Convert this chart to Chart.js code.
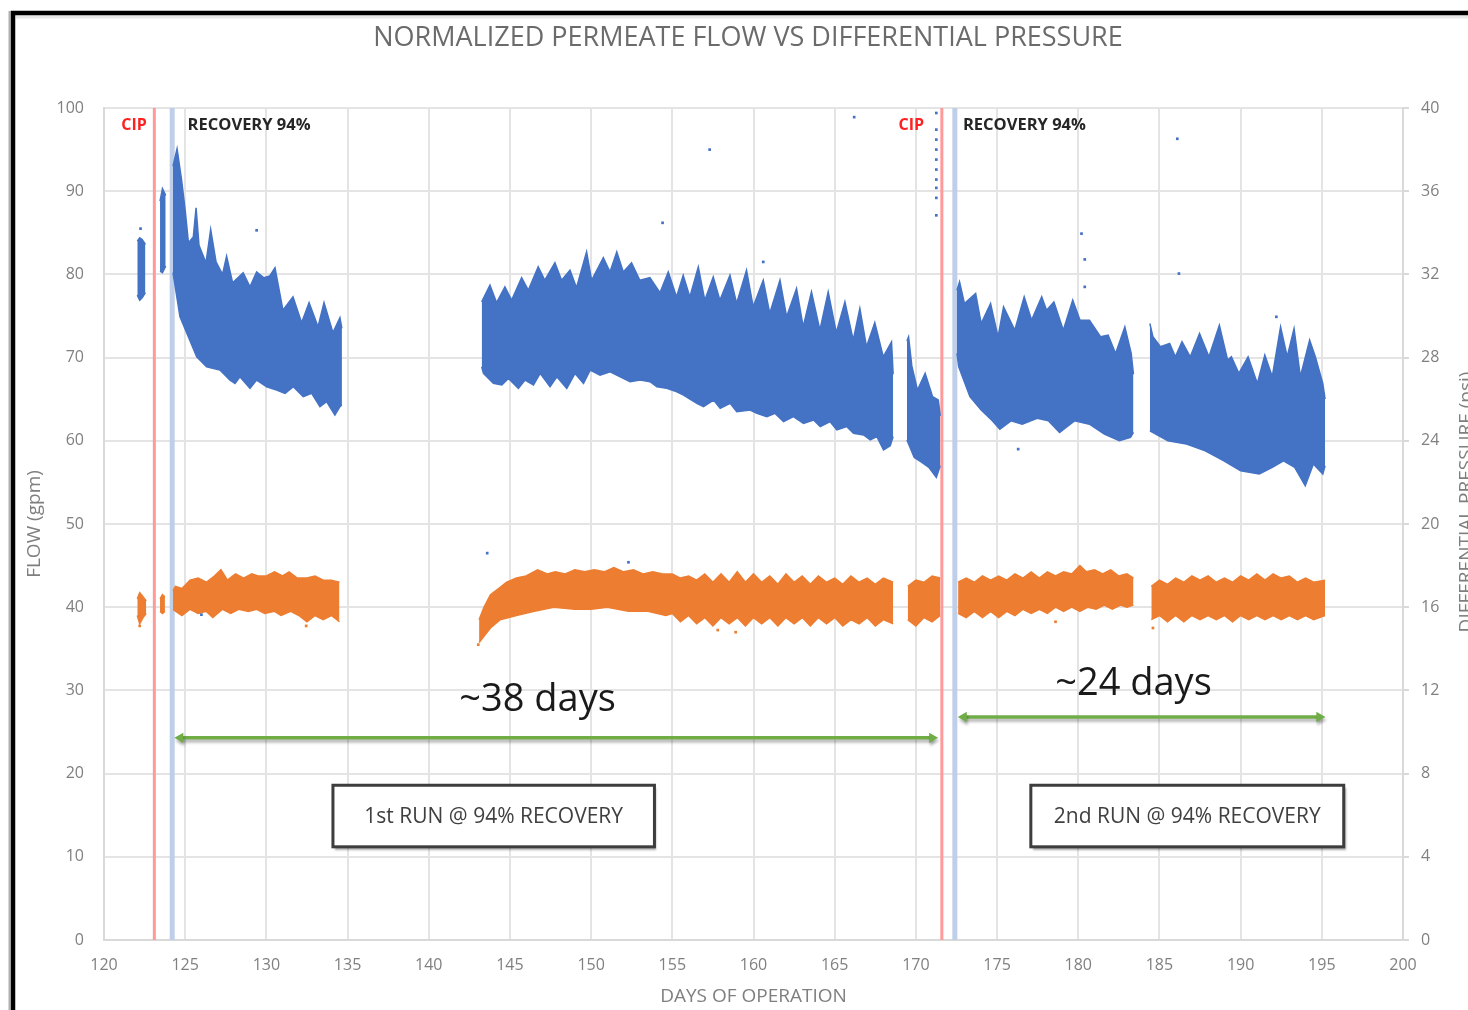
<!DOCTYPE html>
<html>
<head>
<meta charset="utf-8">
<script src="https://cdn.jsdelivr.net/npm/chart.js@4/dist/chart.umd.min.js"></script>
<style>
html,body{margin:0;padding:0;background:#ffffff;overflow:hidden;}
#wrap{width:1468px;height:1010px;position:relative;}
</style>
</head>
<body>
<div id="wrap"><canvas id="chart" width="1468" height="1010"></canvas></div>
<script>
// ---------------- DATA ----------------
const chartTitle = 'NORMALIZED PERMEATE FLOW VS DIFFERENTIAL PRESSURE';
const xAxisTitle = 'DAYS OF OPERATION';
const yAxisTitle = 'FLOW (gpm)';
const y2AxisTitle = 'DIFFERENTIAL PRESSURE (psi)';
const xTicks = [120, 200, 5];     // min, max, step (days)
const yTicks = [0, 100, 10];      // flow gpm
const y2Ticks = [0, 40, 4];       // psi

// Normalized permeate flow (gpm): upper and lower envelope of each operating run, [day, gpm]
const flowUpperRuns = [
  [[122.05,84.0],[122.2,84.4],[122.35,84.2],[122.55,83.6]],
  [[123.45,88.8],[123.6,90.3],[123.8,89.5]],
  [[124.25,93.0],[124.5,95.1],[124.78,91.3],[125.0,87.7],[125.2,83.8],[125.5,84.5],[125.67,88.0],[125.85,83.5],[126.28,81.4],[126.57,85.4],[126.9,81.5],[127.3,80.0],[127.55,82.2],[127.92,79.0],[128.57,80.2],[128.99,78.5],[129.4,80.3],[129.85,79.6],[130.2,79.8],[130.53,80.8],[131.02,75.7],[131.64,77.3],[132.17,74.2],[132.63,76.6],[133.18,73.7],[133.55,76.6],[134.1,73.0],[134.53,74.8],[134.65,73.5]],
  [[143.26,76.7],[143.77,78.7],[144.18,76.6],[144.69,78.5],[145.1,76.9],[145.72,79.6],[146.13,78.1],[146.74,80.9],[147.15,79.3],[147.77,81.4],[148.18,79.3],[148.7,80.5],[149.1,78.4],[149.72,82.7],[150.03,79.3],[150.75,82.0],[151.16,80.3],[151.58,82.7],[151.98,80.3],[152.49,81.4],[153.0,79.3],[153.62,79.6],[154.24,77.8],[154.75,80.3],[155.26,77.3],[155.67,79.9],[156.08,77.3],[156.6,80.9],[157.0,76.9],[157.52,79.7],[157.93,76.9],[158.55,79.9],[158.96,76.5],[159.57,80.5],[159.98,76.1],[160.6,79.3],[161.0,75.3],[161.63,79.3],[162.04,74.9],[162.65,78.3],[163.06,73.7],[163.57,77.9],[164.09,73.3],[164.6,77.9],[165.1,73.0],[165.63,76.7],[166.14,72.1],[166.55,75.9],[166.96,71.3],[167.47,74.2],[167.99,70.1],[168.5,71.9],[168.6,68.0]],
  [[169.45,72.0],[169.55,72.5],[169.75,69.0],[170.1,66.1],[170.57,68.1],[171.03,65.3],[171.38,64.9],[171.5,63.0]],
  [[172.53,78.1],[172.69,79.1],[172.99,76.5],[173.68,77.7],[174.02,74.1],[174.6,76.5],[175.06,72.5],[175.4,76.1],[176.09,73.3],[176.67,77.3],[177.13,74.5],[177.75,77.3],[178.05,75.7],[178.5,76.7],[179.08,73.3],[179.66,76.9],[180.11,74.5],[180.69,74.5],[181.38,72.5],[181.84,72.7],[182.3,70.5],[182.87,73.7],[183.26,70.5],[183.4,68.0]],
  [[184.41,74.1],[184.6,72.5],[185.06,71.3],[185.63,71.7],[185.98,70.1],[186.39,71.9],[186.9,70.1],[187.47,72.9],[188.05,70.1],[188.69,73.9],[189.2,69.7],[189.43,70.1],[189.89,68.1],[190.46,70.1],[191.03,66.9],[191.49,70.3],[191.95,67.7],[192.46,73.7],[192.87,70.1],[193.29,73.5],[193.68,67.7],[194.25,72.1],[194.6,70.1],[195.06,66.9],[195.2,65.0]]
];
const flowLowerRuns = [
  [[122.05,77.5],[122.2,76.9],[122.35,77.2],[122.55,77.8]],
  [[123.45,80.4],[123.6,80.2],[123.8,81.0]],
  [[124.25,80.2],[124.68,74.9],[125.09,73.0],[125.71,70.1],[126.32,68.9],[127.14,68.5],[127.76,67.3],[128.07,66.9],[128.37,67.7],[128.99,66.3],[129.4,67.3],[130.02,66.5],[130.63,66.1],[131.15,65.7],[131.66,66.5],[132.27,65.3],[132.79,65.7],[133.3,64.1],[133.71,64.7],[134.22,63.1],[134.53,64.1],[134.65,64.3]],
  [[143.26,68.9],[143.37,68.1],[143.98,66.9],[144.5,66.7],[144.91,67.5],[145.52,66.3],[145.93,67.3],[146.45,66.7],[146.86,68.1],[147.47,66.5],[147.89,67.7],[148.5,66.3],[149.01,68.1],[149.53,66.9],[149.94,68.5],[150.55,67.9],[151.17,68.3],[151.79,67.7],[152.4,67.1],[153.02,67.3],[153.63,67.1],[154.05,66.5],[154.66,66.3],[155.28,65.9],[155.69,65.5],[156.51,64.5],[156.92,64.1],[157.54,64.9],[157.95,63.9],[158.56,64.5],[158.97,63.5],[159.79,63.7],[160.21,63.3],[160.82,62.9],[161.33,63.3],[161.85,62.3],[162.46,62.9],[163.08,62.1],[163.7,62.5],[164.11,61.7],[164.72,62.3],[165.13,61.3],[165.75,61.7],[166.16,60.9],[166.78,60.7],[167.19,60.1],[167.6,60.5],[168.01,58.9],[168.42,59.4],[168.6,60.5]],
  [[169.45,60.1],[169.9,58.0],[170.3,57.5],[170.8,56.8],[171.26,55.6],[171.5,57.0]],
  [[172.53,70.5],[172.64,68.9],[173.33,65.3],[174.02,63.7],[174.71,62.4],[175.17,61.4],[175.86,62.4],[176.55,62.0],[177.47,62.7],[178.16,62.4],[178.85,61.0],[179.77,62.4],[180.69,62.0],[181.61,60.8],[182.53,60.0],[183.22,60.4],[183.4,61.0]],
  [[184.41,61.2],[185.52,60.0],[186.67,59.6],[187.82,58.8],[188.97,57.6],[190.0,56.4],[191.15,56.0],[191.95,56.8],[192.64,57.6],[193.33,56.8],[193.98,54.6],[194.48,57.2],[195.06,56.0],[195.2,57.0]]
];
const flowOutliers = [
  [122.25,85.5],[129.4,85.3],[154.4,86.2],[157.3,95.0],[160.6,81.5],[166.2,98.9],
  [171.26,99.4],[171.26,97.4],[171.26,96.2],[171.26,95.0],[171.26,93.8],[171.26,92.6],[171.26,91.4],[171.26,90.4],[171.26,89.2],[171.26,87.1],
  [176.3,59.0],[180.2,84.9],[180.4,81.8],[180.4,78.5],[186.1,96.3],[186.2,80.1],[192.2,74.9],
  [143.6,46.5],[152.3,45.4],[126.0,39.1]
];

// Differential pressure (psi): upper and lower envelope of each run, [day, psi]
const dpUpperRuns = [
  [[122.05,16.4],[122.2,16.7],[122.4,16.5],[122.6,16.3]],
  [[123.45,16.4],[123.6,16.6],[123.75,16.5]],
  [[124.25,16.8],[124.4,17.0],[124.8,16.9],[125.3,17.3],[125.8,17.4],[126.3,17.2],[126.8,17.5],[127.2,17.8],[127.6,17.3],[128.1,17.6],[128.6,17.4],[129.1,17.6],[129.5,17.5],[130.0,17.5],[130.5,17.7],[131.0,17.5],[131.4,17.7],[131.9,17.4],[132.5,17.4],[133.0,17.5],[133.5,17.3],[134.0,17.3],[134.5,17.2]],
  [[143.1,15.4],[143.4,16.0],[143.8,16.6],[144.3,16.9],[144.8,17.2],[145.4,17.4],[146.0,17.5],[146.7,17.8],[147.3,17.6],[147.8,17.7],[148.4,17.6],[149.0,17.8],[149.6,17.7],[150.2,17.8],[150.8,17.7],[151.4,17.9],[152.0,17.7],[152.6,17.8],[153.2,17.6],[153.8,17.7],[154.4,17.6],[155.0,17.6],[155.5,17.4],[156.0,17.5],[156.5,17.3],[157.0,17.6],[157.5,17.2],[158.0,17.6],[158.5,17.2],[159.0,17.7],[159.5,17.2],[160.0,17.6],[160.5,17.2],[161.0,17.5],[161.5,17.1],[162.0,17.6],[162.5,17.2],[163.0,17.5],[163.5,17.1],[164.0,17.5],[164.5,17.2],[165.0,17.4],[165.5,17.1],[166.0,17.5],[166.5,17.2],[167.0,17.4],[167.5,17.1],[168.0,17.4],[168.6,17.2]],
  [[169.5,17.0],[170.0,17.3],[170.5,17.2],[171.0,17.5],[171.5,17.4]],
  [[172.6,17.2],[173.1,17.4],[173.6,17.2],[174.1,17.5],[174.6,17.3],[175.1,17.5],[175.6,17.3],[176.1,17.6],[176.6,17.4],[177.1,17.7],[177.6,17.4],[178.1,17.7],[178.6,17.5],[179.1,17.7],[179.6,17.6],[180.1,18.0],[180.5,17.7],[181.0,17.8],[181.5,17.6],[182.0,17.8],[182.5,17.5],[183.0,17.6],[183.4,17.4]],
  [[184.5,17.0],[185.0,17.3],[185.5,17.1],[186.0,17.4],[186.5,17.2],[187.0,17.5],[187.5,17.3],[188.0,17.5],[188.5,17.2],[189.0,17.4],[189.5,17.2],[190.0,17.5],[190.5,17.3],[191.0,17.6],[191.5,17.3],[192.0,17.6],[192.5,17.4],[193.0,17.5],[193.5,17.2],[194.0,17.4],[194.5,17.2],[195.2,17.3]]
];
const dpLowerRuns = [
  [[122.05,15.6],[122.2,15.2],[122.4,15.5],[122.6,15.7]],
  [[123.45,15.8],[123.6,15.7],[123.75,15.8]],
  [[124.25,15.9],[124.8,15.6],[125.3,15.9],[125.8,15.7],[126.3,15.8],[126.7,15.5],[127.3,15.9],[127.8,15.7],[128.3,15.9],[128.9,15.8],[129.4,15.9],[129.9,15.7],[130.5,15.8],[130.9,15.6],[131.5,15.8],[132.0,15.6],[132.5,15.3],[133.0,15.6],[133.5,15.4],[134.0,15.6],[134.5,15.3]],
  [[143.1,14.3],[143.4,14.6],[143.8,15.0],[144.4,15.4],[145.4,15.6],[146.5,15.8],[147.7,16.0],[149.0,15.9],[150.0,15.9],[151.0,16.0],[152.3,15.8],[153.5,15.8],[154.6,15.6],[155.0,15.7],[155.5,15.3],[156.0,15.6],[156.5,15.2],[157.0,15.5],[157.5,15.1],[158.0,15.5],[158.5,15.2],[159.0,15.5],[159.5,15.1],[160.0,15.5],[160.5,15.2],[161.0,15.5],[161.5,15.1],[162.0,15.5],[162.5,15.2],[163.0,15.5],[163.5,15.1],[164.0,15.5],[164.5,15.2],[165.0,15.5],[165.5,15.1],[166.0,15.4],[166.5,15.2],[167.0,15.5],[167.5,15.1],[168.0,15.4],[168.6,15.2]],
  [[169.5,15.4],[170.0,15.1],[170.5,15.5],[171.0,15.3],[171.5,15.6]],
  [[172.6,15.7],[173.1,15.5],[173.6,15.8],[174.1,15.5],[174.6,15.8],[175.1,15.5],[175.6,15.8],[176.1,15.6],[176.6,15.9],[177.1,15.7],[177.6,15.9],[178.1,15.7],[178.6,16.0],[179.1,15.8],[179.6,16.0],[180.1,15.8],[180.6,16.0],[181.1,15.9],[181.6,16.1],[182.1,15.9],[182.6,16.1],[183.0,16.0],[183.4,16.1]],
  [[184.5,15.4],[185.0,15.6],[185.5,15.3],[186.0,15.6],[186.5,15.3],[187.0,15.6],[187.5,15.4],[188.0,15.6],[188.5,15.4],[189.0,15.6],[189.5,15.3],[190.0,15.6],[190.5,15.4],[191.0,15.6],[191.5,15.4],[192.0,15.6],[192.5,15.4],[193.0,15.6],[193.5,15.4],[194.0,15.6],[194.5,15.4],[195.2,15.6]]
];
const dpOutliers = [[122.2,15.1],[132.45,15.1],[143.05,14.2],[157.8,14.9],[158.9,14.8],[178.6,15.3],[184.6,15.0]];

// Events (day of operation)
const cipDays = [123.1, 171.6];
const recoveryStartDays = [124.2, 172.4];
const cipLabels = ['CIP', 'CIP'];
const recoveryLabels = ['RECOVERY 94%', 'RECOVERY 94%'];

// Run-length arrows: start day, end day, flow level (gpm) and their labels
const arrowStartDays = [124.7, 172.95];
const arrowEndDays = [171.0, 194.85];
const arrowLevels = [24.3, 26.8];
const arrowLabels = ['~38 days', '~24 days'];
const runBoxLabels = ['1st RUN @ 94% RECOVERY', '2nd RUN @ 94% RECOVERY'];

// ---------------- STYLE / PLACEMENT ----------------
const FLOW_COLOR = '#4472c4';
const DP_COLOR = '#ed7d31';
const GRID_COLOR = '#e4e4e4';
const TICK_COLOR = '#808080';
const FONT = "'Open Sans', 'Noto Sans', sans-serif";

// annotation placements in data units (day, gpm)
const eventLabelLevel = 97.9;
const cipLabelCenters = [121.85, 169.72];
const recoveryLabelStarts = [125.15, 172.9];
const arrowLabelCenters = [[146.7, 28.8], [183.4, 30.8]];
const runBoxes = [[134.1, 153.9, 18.6, 11.2], [177.08, 196.35, 18.6, 11.2]];

// ---------------- DATASETS ----------------
const datasets = [];
function addBand(upperRuns, lowerRuns, color, axis, label) {
  upperRuns.forEach((up, i) => {
    datasets.push({ type: 'line', label: label + ' upper ' + (i + 1), data: up, yAxisID: axis,
      borderColor: color, backgroundColor: color, borderWidth: 1.5, pointRadius: 0, tension: 0, fill: false, order: 2 });
    datasets.push({ type: 'line', label: label + ' lower ' + (i + 1), data: lowerRuns[i], yAxisID: axis,
      borderColor: color, backgroundColor: color, borderWidth: 1.5, pointRadius: 0, tension: 0, fill: '-1', order: 2 });
  });
}
addBand(flowUpperRuns, flowLowerRuns, FLOW_COLOR, 'y', 'Flow');
addBand(dpUpperRuns, dpLowerRuns, DP_COLOR, 'y2', 'DP');

datasets.push({ type: 'scatter', label: 'DP outliers', data: dpOutliers, yAxisID: 'y2',
  pointStyle: 'rect', pointRadius: 1.9, backgroundColor: DP_COLOR, borderWidth: 0, order: 1 });
datasets.push({ type: 'scatter', label: 'Flow outliers', data: flowOutliers, yAxisID: 'y',
  pointStyle: 'rect', pointRadius: 1.9, backgroundColor: FLOW_COLOR, borderWidth: 0, order: 0 });

cipDays.forEach((d, i) => {
  datasets.push({ type: 'line', label: 'CIP ' + (i + 1), data: [[d, 0], [d, 100]], yAxisID: 'y',
    borderColor: '#ff9a9a', borderWidth: 3, pointRadius: 0, fill: false, order: 5 });
});
recoveryStartDays.forEach((d, i) => {
  datasets.push({ type: 'line', label: 'Recovery ' + (i + 1), data: [[d, 0], [d, 100]], yAxisID: 'y',
    borderColor: '#bfcfea', borderWidth: 5, pointRadius: 0, fill: false, order: 5 });
});
arrowStartDays.forEach((d, i) => {
  datasets.push({ type: 'line', label: 'Arrow ' + (i + 1), isArrow: true,
    data: [[d, arrowLevels[i]], [arrowEndDays[i], arrowLevels[i]]], yAxisID: 'y',
    borderColor: '#70ad47', backgroundColor: '#70ad47', borderWidth: 3.5,
    pointStyle: 'triangle', pointRadius: 6, pointRotation: [-90, 90], pointBorderWidth: 0,
    fill: false, order: 0 });
});

// ---------------- PLUGIN: frame, annotations, boxes ----------------
const annotPlugin = {
  id: 'annot',
  beforeDatasetDraw(chart, args) {
    if (chart.data.datasets[args.index].isArrow) {
      const c = chart.ctx; c.save();
      c.shadowColor = 'rgba(0,0,0,0.30)'; c.shadowBlur = 3; c.shadowOffsetY = 3; c.shadowOffsetX = 1;
    }
  },
  afterDatasetDraw(chart, args) {
    if (chart.data.datasets[args.index].isArrow) chart.ctx.restore();
  },
  afterDraw(chart) {
    const c = chart.ctx, xs = chart.scales.x, ys = chart.scales.y;
    const px = v => xs.getPixelForValue(v), py = v => ys.getPixelForValue(v);
    c.save();
    // event labels
    c.textBaseline = 'middle';
    c.font = 'bold 16px ' + FONT;
    cipLabelCenters.forEach((d, i) => { c.fillStyle = '#ff2020'; c.textAlign = 'center'; c.fillText(cipLabels[i], px(d), py(eventLabelLevel)); });
    c.font = 'bold 16.5px ' + FONT;
    recoveryLabelStarts.forEach((d, i) => { c.fillStyle = '#262626'; c.textAlign = 'left'; c.fillText(recoveryLabels[i], px(d), py(eventLabelLevel)); });
    // arrow labels
    c.font = '38px ' + FONT; c.fillStyle = '#1a1a1a'; c.textAlign = 'center';
    arrowLabelCenters.forEach((p, i) => c.fillText(arrowLabels[i], px(p[0]), py(p[1])));
    // run boxes
    runBoxes.forEach((b, i) => {
      const x0 = px(b[0]), x1 = px(b[1]), y0 = py(b[2]), y1 = py(b[3]);
      c.save();
      c.shadowColor = 'rgba(0,0,0,0.35)'; c.shadowBlur = 2; c.shadowOffsetX = 2; c.shadowOffsetY = 3;
      c.fillStyle = '#ffffff'; c.fillRect(x0, y0, x1 - x0, y1 - y0);
      c.restore();
      c.strokeStyle = '#3d3d3d'; c.lineWidth = 3; c.strokeRect(x0, y0, x1 - x0, y1 - y0);
      c.font = '21px ' + FONT; c.fillStyle = '#404040'; c.textAlign = 'center';
      c.fillText(runBoxLabels[i], (x0 + x1) / 2, (y0 + y1) / 2 + 1);
    });
    // secondary axis title (Excel style rotated, clipped by picture edge)
    c.save();
    c.translate(1467, (chart.chartArea.top + chart.chartArea.bottom) / 2 - 22);
    c.rotate(-Math.PI / 2);
    c.font = '19px ' + FONT; c.fillStyle = '#7f7f7f'; c.textAlign = 'center';
    c.fillText(y2AxisTitle, 0, 0);
    c.restore();
    // outer frame
    c.strokeStyle = '#b0b0b0'; c.lineWidth = 2;
    c.beginPath(); c.moveTo(9.5, 11); c.lineTo(9.5, 1010); c.stroke();
    c.strokeStyle = '#e8e8e8'; c.lineWidth = 3;
    c.beginPath(); c.moveTo(16, 17); c.lineTo(1468, 17); c.stroke();
    c.strokeStyle = '#000000'; c.lineWidth = 4.5;
    c.beginPath(); c.moveTo(13, 1010); c.lineTo(13, 13); c.lineTo(1468, 13); c.stroke();
    c.restore();
  }
};

// ---------------- CHART ----------------
Chart.defaults.font.family = FONT;
new Chart(document.getElementById('chart'), {
  type: 'line',
  data: { datasets },
  plugins: [annotPlugin],
  options: {
    responsive: false,
    devicePixelRatio: 1,
    animation: false,
    events: [],
    layout: { padding: { left: 28, right: 0, top: 0, bottom: 0 } },
    plugins: {
      legend: { display: false },
      tooltip: { enabled: false },
      title: { display: true, text: chartTitle, color: '#6b6b6b',
        font: { size: 27, weight: 'normal', family: FONT, lineHeight: 1.2 }, padding: { top: 21.8, bottom: 53.8 } }
    },
    scales: {
      x: { type: 'linear', min: xTicks[0], max: xTicks[1],
        ticks: { stepSize: xTicks[2], color: TICK_COLOR, font: { size: 16 }, padding: 16, maxRotation: 0 },
        grid: { color: GRID_COLOR, lineWidth: 2, drawTicks: false },
        border: { color: '#d9d9d9', width: 2 },
        title: { display: true, text: xAxisTitle, color: '#7f7f7f', font: { size: 19 }, padding: { top: 0, bottom: 2 } },
        afterFit(s) { s.height = 70; } },
      y: { type: 'linear', position: 'left', min: yTicks[0], max: yTicks[1],
        ticks: { stepSize: yTicks[2], color: TICK_COLOR, font: { size: 16 }, padding: 20 },
        grid: { color: GRID_COLOR, lineWidth: 2, drawTicks: false },
        border: { color: '#d9d9d9', width: 2 },
        title: { display: true, text: yAxisTitle, color: '#7f7f7f', font: { size: 19 }, padding: { top: -5, bottom: 0 } },
        afterFit(s) { s.width = 76; } },
      y2: { type: 'linear', position: 'right', min: y2Ticks[0], max: y2Ticks[1],
        ticks: { stepSize: y2Ticks[2], color: TICK_COLOR, font: { size: 16 }, padding: 12 },
        grid: { drawOnChartArea: false, color: '#d9d9d9', tickLength: 6, lineWidth: 2 },
        border: { color: '#d9d9d9', width: 2 },
        afterFit(s) { s.width = 65; } }
    }
  }
});
</script>
</body>
</html>
